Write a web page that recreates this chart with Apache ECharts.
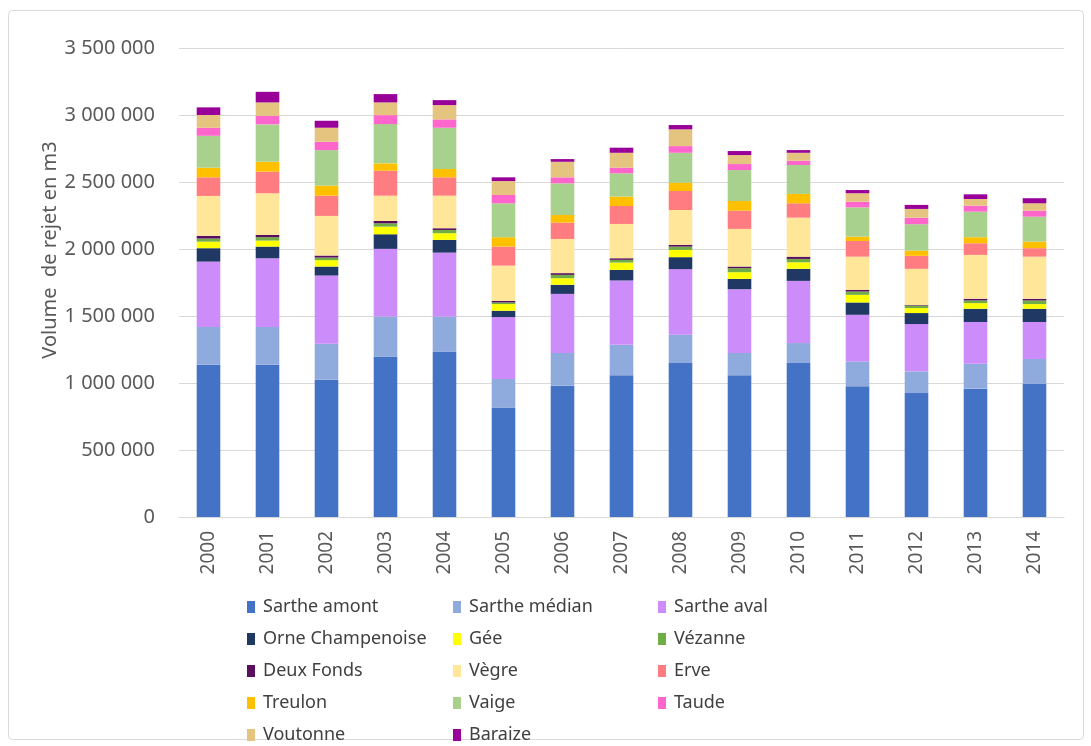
<!DOCTYPE html>
<html>
<head>
<meta charset="utf-8">
<script src="https://cdn.jsdelivr.net/npm/echarts@6/dist/echarts.min.js"></script>
<style>
  html, body { margin: 0; padding: 0; background: #ffffff; }
  #chart { width: 1091px; height: 746px; }
</style>
</head>
<body>
<div id="chart"></div>
<script>
// Categories (years)
const years = ['2000','2001','2002','2003','2004','2005','2006','2007','2008','2009','2010','2011','2012','2013','2014'];

// Series values (m3)
const sartheAmont      = [1136000,1136000,1025000,1198000,1235000, 814000, 980000,1057000,1149000,1057000,1149000, 975000, 925000, 958000, 993000];
const sartheMedian     = [ 281000, 281000, 268000, 298000, 261000, 216000, 244000, 228000, 211000, 167000, 149000, 186000, 162000, 186000, 186000];
const sartheAval       = [ 489000, 514000, 509000, 505000, 477000, 462000, 441000, 480000, 490000, 476000, 464000, 348000, 353000, 311000, 276000];
const orneChampenoise  = [ 100000,  87000,  67000, 109000,  95000,  47000,  68000,  79000,  89000,  77000,  90000,  92000,  82000,  99000,  99000];
const gee              = [  49000,  45000,  48000,  57000,  50000,  50000,  49000,  55000,  54000,  50000,  49000,  57000,  37000,  42000,  35000];
const vezanne          = [  23000,  25000,  19000,  25000,  24000,  12000,  25000,  20000,  25000,  30000,  25000,  25000,  19000,  20000,  27000];
const deuxFonds        = [  20000,  17000,  15000,  17000,  13000,  12000,  13000,  12000,  13000,  12000,  17000,  12000,   5000,  12000,  12000];
const vegre            = [ 298000, 311000, 296000, 189000, 243000, 263000, 255000, 256000, 260000, 281000, 291000, 248000, 269000, 328000, 315000];
const erve             = [ 139000, 161000, 151000, 186000, 137000, 142000, 122000, 134000, 142000, 136000, 107000, 117000,  97000,  87000,  63000];
const treulon          = [  72000,  74000,  75000,  55000,  62000,  70000,  57000,  70000,  62000,  72000,  70000,  32000,  39000,  45000,  49000];
const vaige            = [ 238000, 279000, 265000, 293000, 308000, 253000, 236000, 174000, 223000, 231000, 216000, 219000, 197000, 191000, 186000];
const taude            = [  60000,  64000,  62000,  67000,  62000,  62000,  45000,  42000,  50000,  45000,  32000,  42000,  49000,  44000,  45000];
const voutonne         = [  95000, 100000, 105000,  95000, 107000, 104000, 116000, 111000, 125000,  67000,  59000,  63000,  65000,  50000,  55000];
const baraize          = [  57000,  79000,  52000,  62000,  37000,  28000,  20000,  38000,  32000,  30000,  20000,  24000,  30000,  35000,  38000];

// Y axis ticks
const yTicks = [0, 500000, 1000000, 1500000, 2000000, 2500000, 3000000, 3500000];

const seriesDefs = [
  ['Sarthe amont', sartheAmont, '#4472C4'],
  ['Sarthe médian', sartheMedian, '#8FAADC'],
  ['Sarthe aval', sartheAval, '#CC8CFA'],
  ['Orne Champenoise', orneChampenoise, '#1F3864'],
  ['Gée', gee, '#FFFF00'],
  ['Vézanne', vezanne, '#70AD47'],
  ['Deux Fonds', deuxFonds, '#5A0F5E'],
  ['Vègre', vegre, '#FFE699'],
  ['Erve', erve, '#FF7C80'],
  ['Treulon', treulon, '#FFC000'],
  ['Vaige', vaige, '#A9D18E'],
  ['Taude', taude, '#FF66CC'],
  ['Voutonne', voutonne, '#E5C47F'],
  ['Baraize', baraize, '#990099']
];

const legendCols = [
  ['Sarthe amont','Orne Champenoise','Deux Fonds','Treulon','Voutonne'],
  ['Sarthe médian','Gée','Vègre','Vaige','Baraize'],
  ['Sarthe aval','Vézanne','Erve','Taude']
];
const legendLefts = [247, 453, 658];

function fmt(v) {
  return String(v).replace(/\B(?=(\d{3})+(?!\d))/g, ' ');
}

const chart = echarts.init(document.getElementById('chart'), null, { renderer: 'canvas' });

const option = {
  backgroundColor: '#ffffff',
  animation: false,
  grid: { left: 179, right: 27, top: 48, bottom: 229, containLabel: false },
  xAxis: {
    type: 'category',
    data: years,
    axisLine: { show: true, lineStyle: { color: '#d9d9d9', width: 1 } },
    axisTick: { show: false },
    axisLabel: { rotate: 90, margin: 14, color: '#595959', fontSize: 19, fontFamily: 'Noto Sans' }
  },
  yAxis: {
    type: 'value',
    min: yTicks[0],
    max: yTicks[yTicks.length - 1],
    interval: 500000,
    axisLine: { show: false },
    axisTick: { show: false },
    splitLine: { show: true, lineStyle: { color: '#d9d9d9', width: 1 } },
    axisLabel: { margin: 24, color: '#595959', fontSize: 20, fontFamily: 'Noto Sans', formatter: v => fmt(v) }
  },
  legend: legendCols.map((col, i) => ({
    orient: 'vertical',
    left: legendLefts[i],
    top: 598,
    padding: 0,
    data: col,
    icon: 'rect',
    itemWidth: 8,
    itemHeight: 12,
    itemGap: 14,
    selectedMode: false,
    textStyle: { color: '#404040', fontSize: 18, fontFamily: 'Noto Sans', lineHeight: 18, padding: [0, 0, 0, 3] }
  })),
  graphic: [
    {
      type: 'rect',
      shape: { x: 8.5, y: 10.5, width: 1075, height: 729, r: 4 },
      style: { fill: 'none', stroke: '#d9d9d9', lineWidth: 1 },
      silent: true
    },
    {
      type: 'text',
      x: 50,
      y: 250,
      rotation: Math.PI / 2,
      style: {
        text: 'Volume  de rejet en m3',
        fill: '#595959',
        font: '20px "Noto Sans"',
        align: 'center',
        verticalAlign: 'middle'
      },
      silent: true
    }
  ],
  series: seriesDefs.map(([name, data, color]) => ({
    name: name,
    type: 'bar',
    stack: 'total',
    barWidth: '40%',
    data: data,
    itemStyle: { color: color },
    emphasis: { disabled: true }
  }))
};

chart.setOption(option);
</script>
</body>
</html>
